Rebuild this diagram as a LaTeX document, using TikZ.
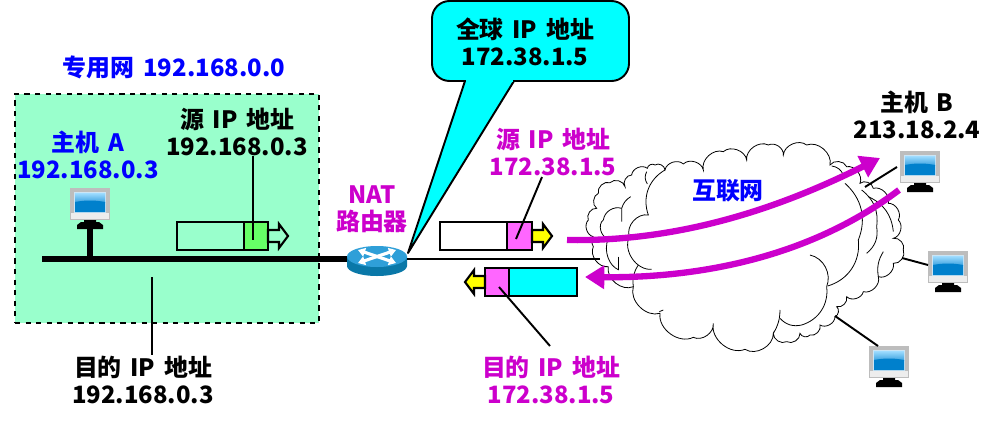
\documentclass[tikz,border=0pt]{standalone}
\usepackage{fontspec}
\setmainfont{Noto Sans CJK SC}[WordSpace=1.6]
\usetikzlibrary{calc, arrows.meta, positioning, shapes.geometric}
\definecolor{lanGreen}{HTML}{99FFCC}
\definecolor{tagGreen}{HTML}{66FF66}
\definecolor{tagPink}{HTML}{FF66FF}
\definecolor{natPurple}{HTML}{CC00CC}
\definecolor{natBlue}{HTML}{0000FF}
\definecolor{natCyan}{HTML}{00FFFF}
\definecolor{natYellow}{HTML}{FFFF00}
\definecolor{routerTop}{HTML}{2F9FD8}
\definecolor{routerSide}{HTML}{0A78A8}
\definecolor{pcFrame}{HTML}{BDBDBD}
\definecolor{pcBezel}{HTML}{EDEDED}
\definecolor{pcBlue}{HTML}{0080CC}
\definecolor{pcSky}{HTML}{9FDCFF}
\def\px{0.02cm}
\tikzset{
  lbl/.style={align=center,font=\fontsize{13.6}{15.4}\selectfont\bfseries,inner sep=0pt},
  pkt/.style={draw,line width=1.2pt,minimum height=28*\px,inner sep=0pt,outer sep=0pt},
  leader/.style={line width=1.1pt},
  flow/.style={line width=3.6pt,natPurple,-{Triangle[length=11pt,width=13pt]}},
  cloudline/.style={line width=0.45pt},
  routerx/.style={white,line width=1.8pt,{Triangle[length=4pt,width=5pt]}-{Triangle[length=4pt,width=5pt]}},
  pcicon/.pic={
    \fill[black] (-13,36) -- (-9,33) -- (-6,33) -- (-6,30) -- (6,30) -- (6,33) -- (9,33) -- (13,36) -- (13,40) -- (-13,40) -- cycle;
    \fill[pcFrame] (-20,-1) rectangle (20,31);
    \fill[pcBezel] (-19,24) rectangle (19,30);
    \fill[pcBlue!20!white] (-16,3) rectangle (16,24);
    \fill[pcSky] (-15,4) rectangle (15,14);
    \shade[top color=pcSky,bottom color=pcBlue!60!pcSky] (-15,4) rectangle (15,13);
    \fill[pcBlue] (-15,13) .. controls (-5,11) and (5,11) .. (15,13) -- (15,23) -- (-15,23) -- cycle;
  },
  pktarrow/.pic={
    \draw[line width=1.2pt,pic actions] (0,-6) -- (11,-6) -- (11,-12) -- (20,0) -- (11,12) -- (11,6) -- (0,6) -- cycle;
  }
}

\begin{document}
\begin{tikzpicture}[x=\px,y=-\px]
\useasboundingbox (0,0) rectangle (997,423);

% 专用网
\node[draw,dashed,line width=1.1pt,fill=lanGreen,minimum width=304*\px,minimum height=229*\px,inner sep=0pt] (lan) at (167,208.5) {};
\node[lbl,text=natBlue] (lanName) at (174,67) {专用网 192.168.0.0};

% 总线和路由器
\coordinate (busStart) at (42,259);
\node[inner sep=0pt,minimum width=60*\px,minimum height=30*\px] (nat) at (377,259) {};
\draw[line width=3.4pt] (busStart) -- (nat.west);

\fill[routerSide] (347,256.5) -- (347,266) arc[start angle=180,end angle=0,x radius=30,y radius=10] -- (407,256.5) -- cycle;
\fill[routerTop] (377,256.5) ellipse[x radius=30,y radius=10.5];
\draw[routerx] (358,250) -- (396,263);
\draw[routerx] (396,250) -- (358,263);

\node[lbl,text=natPurple] (natName) at (372,209) {NAT\\路由器};

% 全球地址
\node[draw,line width=1.1pt,fill=natCyan,rounded corners=10pt,minimum width=197*\px,minimum height=80*\px,inner sep=0pt] (callout) at (530.5,41) {};
\coordinate (tailPt) at (408,253);
\coordinate (tailA) at (465,81);
\coordinate (tailB) at (514,81);
\draw[line width=1.1pt,fill=natCyan,line join=round] (tailA) -- (tailPt) -- (tailB);
\fill[natCyan] ($(tailA)+(1,-2)$) rectangle ($(tailB)+(-1,1)$);
\node[lbl] (globalIp) at (525,42) {全球 IP 地址\\172.38.1.5};

% 主机 A
\pic at (90,189) {pcicon};
\coordinate (pcAfoot) at (90,228);
\draw[line width=3.4pt] (pcAfoot) -- (busStart -| pcAfoot);
\node[lbl,text=natBlue] (hostA) at (88,155) {主机 A\\192.168.0.3};

% 分组
\node[pkt,minimum width=67*\px,anchor=west] (bodyA) at (177,236) {};
\node[pkt,fill=tagGreen,minimum width=24*\px,right=0pt of bodyA] (tagA) {};
\pic[fill=lanGreen] at (tagA.east) {pktarrow};

\node[pkt,fill=white,minimum width=67*\px,anchor=west] (bodyB) at (440,236) {};
\node[pkt,fill=tagPink,minimum width=25*\px,right=0pt of bodyB] (tagB) {};
\pic[fill=natYellow] at (tagB.east) {pktarrow};

\node[pkt,fill=tagPink,minimum width=24*\px,anchor=west] (tagC) at (485,282) {};
\node[pkt,fill=natCyan,minimum width=68*\px,right=0pt of tagC] (bodyC) {};
\pic[fill=natYellow,xscale=-1] at (tagC.west) {pktarrow};

% 地址注释
\node[lbl] (srcA) at (237,131.5) {源 IP 地址\\192.168.0.3};
\node[lbl] (dstA) at (143,379.5) {目的 IP 地址\\192.168.0.3};
\node[lbl,text=natPurple] (srcB) at (553,151.5) {源 IP 地址\\172.38.1.5};
\node[lbl,text=natPurple] (dstC) at (551,379.5) {目的 IP 地址\\172.38.1.5};

\coordinate (srcAend) at (253,240);
\coordinate (dstAtop) at (152,277);
\coordinate (srcBtop) at (542,177);
\coordinate (srcBend) at (516,239);
\coordinate (dstCend) at (499,287);
\coordinate (dstCfree) at (550,346);
\draw[leader] (srcA.south -| srcAend) -- (srcAend);
\draw[leader] (dstAtop) -- (dstA.north -| dstAtop);
\draw[leader] (srcBtop) -- (srcBend);
\draw[leader] (dstCend) -- (dstCfree);

% 互联网
\begin{scope}[shift={(560,80)},x=0.00667cm,y=-0.00667cm]
\draw[cloudline,fill=white] (100,470)
  foreach \x/\y in {85/420,110/385,115/340,150/308,195/320,215/285,262/265,285/255,315/270,370/252,430/270,490/215,560/240,625/195,670/225,740/195,810/255,860/260,900/310,940/325,985/370,1015/420,1000/475,1030/510,1000/550,955/590,910/635,860/650,830/680,825/710,780/735,750/765,720/760,680/785,640/760,555/808,460/730,400/772,300/700,220/620,145/560,100/500}
  { to[bend left=62] (\x,\y) } to[bend left=30] (100,470);
\draw[cloudline] (315,270) to[bend right=40] (265,405) to[bend right=60] (208,470) to[bend right=60] (275,568);
\draw[cloudline] (145,475) to[bend left=70] (130,420) to[bend left=50] (185,385);
\draw[cloudline] (185,425) -- (185,385) to[bend left=20] (212,350);
\draw[cloudline] (260,275) to[bend right=30] (262,312);
\draw[cloudline] (145,475) to[bend right=20] (145,535) to[bend right=20] (176,570);
\draw[cloudline] (175,530) -- (175,570);
\draw[cloudline] (220,620) to[bend left=20] (235,555);
\draw[cloudline] (855,310) to[bend left=35] (895,480) to[bend left=40] (803,618);
\draw[cloudline] (750,525) to[bend left=50] (800,620) to[bend left=40] (725,735) to[bend left=30] (660,715);
\draw[cloudline] (660,690) to[bend left=15] (640,760);
\draw[cloudline] (905,330) to[bend left=30] (950,440) to[bend left=30] (920,520);
\draw[cloudline] (925,350) to[bend left=30] (1000,455);
\draw[cloudline] (970,515) to[bend right=20] (955,590);
\draw[cloudline] (298,695) -- (310,690);
\draw[cloudline] (815,258) to[bend left=30] (850,285);
\end{scope}
\node[lbl,text=natBlue] (inet) at (728,191) {互联网};

\coordinate (wanEnd) at (600,259);
\draw[line width=1.1pt] (nat.east) -- (wanEnd);

% 其他主机
\pic at (920,152) {pcicon};
\pic at (948,252) {pcicon};
\pic at (889,347) {pcicon};
\coordinate (linkB) at (897,167);
\coordinate (cloudB) at (865,187);
\coordinate (linkC) at (928,265);
\coordinate (cloudC) at (902,258);
\coordinate (linkD) at (878,346);
\coordinate (cloudD) at (835,316);
\draw[leader] (cloudB) -- (linkB);
\draw[leader] (cloudC) -- (linkC);
\draw[leader] (cloudD) -- (linkD);
\node[lbl] (hostB) at (917,115) {主机 B\\213.18.2.4};

% 数据流
\coordinate (outStart) at (567,240);
\coordinate (outEnd) at (880,158);
\coordinate (inStart) at (899,190);
\coordinate (inEnd) at (585,277);
\draw[flow] (outStart) .. controls (680,242) and (780,208) .. (outEnd);
\draw[flow] (inStart) .. controls (800,265) and (680,278) .. (inEnd);

\end{tikzpicture}
\end{document}
